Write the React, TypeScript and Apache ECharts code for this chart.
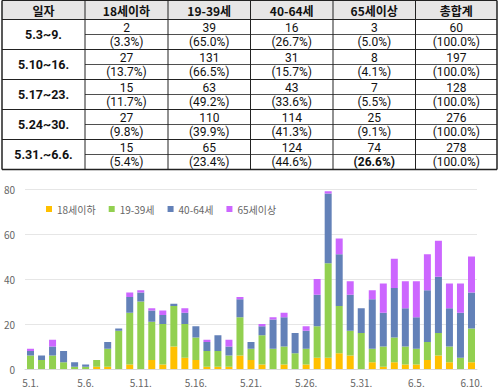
import React, { useEffect, useRef } from "react";
import * as echarts from "echarts";

const dayLabels = [
  "5.1.", "5.2.", "5.3.", "5.4.", "5.5.", "5.6.", "5.7.", "5.8.", "5.9.", "5.10.",
  "5.11.", "5.12.", "5.13.", "5.14.", "5.15.", "5.16.", "5.17.", "5.18.", "5.19.", "5.20.",
  "5.21.", "5.22.", "5.23.", "5.24.", "5.25.", "5.26.", "5.27.", "5.28.", "5.29.", "5.30.",
  "5.31.", "6.1.", "6.2.", "6.3.", "6.4.", "6.5.", "6.6.", "6.7.", "6.8.", "6.9.", "6.10.",
];
const seriesNames = ["18세이하", "19-39세", "40-64세", "65세이상"];
const under18 = [0, 0, 0, 0, 0, 0, 1, 1, 0, 2, 0, 4, 2, 10, 5, 4, 1, 1, 1, 6, 4, 2, 0, 2, 0, 2, 5, 5, 7, 6, 0, 3, 1, 3, 2, 2, 4, 6, 3, 0, 3];
const age19to39 = [6, 4, 6, 3, 1, 1, 3, 8, 17, 23, 30, 17, 18, 18, 15, 10, 7, 7, 5, 17, 5, 13, 9, 8, 7, 7, 14, 42, 21, 11, 16, 6, 9, 11, 8, 7, 8, 10, 7, 5, 15];
const age40to64 = [2, 2, 4, 5, 2, 1, 0, 3, 1, 7, 4, 5, 4, 1, 5, 5, 4, 7, 4, 8, 3, 4, 13, 13, 9, 8, 14, 31, 23, 16, 11, 22, 15, 22, 17, 14, 23, 25, 17, 20, 16];
const over65 = [1, 0, 3, 0, 0, 0, 0, 0, 0, 2, 1, 1, 2, 0, 2, 0, 1, 0, 3, 1, 0, 1, 1, 2, 0, 2, 7, 1, 7, 6, 0, 4, 13, 13, 12, 16, 16, 16, 11, 13, 16];
const yTicks = [0, 20, 40, 60, 80];

const tableHeaders = ["일자", "18세이하", "19-39세", "40-64세", "65세이상", "총합계"];
const weekLabels = ["5.3~9.", "5.10~16.", "5.17~23.", "5.24~30.", "5.31.~6.6."];
const weekUnder18 = [2, 27, 15, 27, 15];
const week19to39 = [39, 131, 63, 110, 65];
const week40to64 = [16, 31, 43, 114, 124];
const weekOver65 = [3, 8, 7, 25, 74];
const weekTotal = [60, 197, 128, 276, 278];

const colors = ["#FFC000", "#92D050", "#6381B8", "#CC66FF"];
const FONT = "'Noto Sans CJK KR', 'Noto Sans', sans-serif";
const NUM_FONT = "Roboto, 'Liberation Sans', sans-serif";

function buildTable(): any[] {
  const els: any[] = [];
  const colX = [2, 85, 168, 250.5, 333, 415.5, 497];
  const headerH = 19;
  const rowH = 30;
  const top = 0.5;
  const bottom = top + headerH + rowH * weekLabels.length;
  els.push({
    type: "rect",
    shape: { x: colX[0], y: top, width: colX[6] - colX[0], height: headerH },
    style: { fill: "#E7E6E6" },
    silent: true,
  });
  const line = (x1: number, y1: number, x2: number, y2: number, w: number) => ({
    type: "line",
    shape: { x1, y1, x2, y2 },
    style: { stroke: "#222", lineWidth: w },
    silent: true,
  });
  els.push(line(colX[0], top, colX[6], top, 1));
  els.push(line(colX[0], top + headerH, colX[6], top + headerH, 1));
  for (let r = 0; r < weekLabels.length; r++) {
    const y0 = top + headerH + r * rowH;
    els.push(line(colX[1], y0 + rowH / 2, colX[6], y0 + rowH / 2, 0.8));
    els.push(line(colX[0], y0 + rowH, colX[6], y0 + rowH, r === weekLabels.length - 1 ? 1.5 : 1));
  }
  colX.forEach((x, i) => {
    els.push(line(x, top, x, bottom, i === 0 || i === colX.length - 1 ? 1.5 : 1));
  });
  const text = (t: string, x: number, y: number, bold: boolean, family: string, size: number) => ({
    type: "text",
    x,
    y,
    silent: true,
    style: {
      text: t,
      align: "center",
      verticalAlign: "middle",
      fill: "#111",
      fontSize: size,
      lineHeight: size,
      fontWeight: bold ? "bold" : "normal",
      fontFamily: family,
    },
  });
  tableHeaders.forEach((h, i) => {
    els.push(text(h, (colX[i] + colX[i + 1]) / 2, top + headerH / 2, true, FONT, 12));
  });
  const cols = [weekUnder18, week19to39, week40to64, weekOver65, weekTotal];
  weekLabels.forEach((lbl, r) => {
    const y0 = top + headerH + r * rowH;
    els.push(text(lbl, (colX[0] + colX[1]) / 2, y0 + rowH / 2, true, NUM_FONT, 12.5));
    cols.forEach((arr, c) => {
      const cx = (colX[c + 1] + colX[c + 2]) / 2;
      const pct = ((arr[r] / weekTotal[r]) * 100).toFixed(1);
      els.push(text(String(arr[r]), cx, y0 + 8, false, NUM_FONT, 12));
      const boldPct = r === weekLabels.length - 1 && c === 3;
      els.push(text("(" + pct + "%)", cx, y0 + 22.5, boldPct, NUM_FONT, 12));
    });
  });
  return els;
}

export default function App() {
  const ref = useRef<HTMLDivElement>(null);
  useEffect(() => {
    if (!ref.current) return;
    const chart = echarts.init(ref.current, undefined, { renderer: "svg" });
    const data = [under18, age19to39, age40to64, over65];
    chart.setOption({
      animation: false,
      backgroundColor: "#ffffff",
      textStyle: { fontFamily: FONT },
      legend: {
        left: 41,
        top: 199,
        itemWidth: 6,
        itemHeight: 6,
        itemGap: 13,
        icon: "rect",
        data: seriesNames,
        textStyle: { fontSize: 10, color: "#666", fontFamily: FONT },
      },
      grid: {
        left: 25,
        right: 23,
        top: 189,
        bottom: 19,
        containLabel: false,
        outerBoundsMode: "none",
      },
      xAxis: {
        type: "category",
        data: dayLabels,
        axisLine: { show: true, lineStyle: { color: "#d9d9d9" } },
        axisTick: { show: false },
        axisLabel: { interval: 4, color: "#666", fontSize: 10, margin: 8, fontFamily: FONT },
      },
      yAxis: {
        type: "value",
        min: yTicks[0],
        max: yTicks[yTicks.length - 1],
        interval: yTicks[1] - yTicks[0],
        axisLine: { show: false },
        axisTick: { show: false },
        axisLabel: { color: "#666", fontSize: 10, margin: 10, fontFamily: FONT },
        splitLine: { lineStyle: { color: "#e6e6e6", width: 1 } },
      },
      graphic: buildTable(),
      series: seriesNames.map((name, i) => ({
        name,
        type: "bar",
        stack: "total",
        barWidth: 7,
        data: data[i],
        itemStyle: { color: colors[i] },
      })),
    });
    return () => chart.dispose();
  }, []);
  return (
    <div
      ref={ref}
      style={{ position: "fixed", left: 0, top: 0, width: 500, height: 388, background: "#fff" }}
    />
  );
}
